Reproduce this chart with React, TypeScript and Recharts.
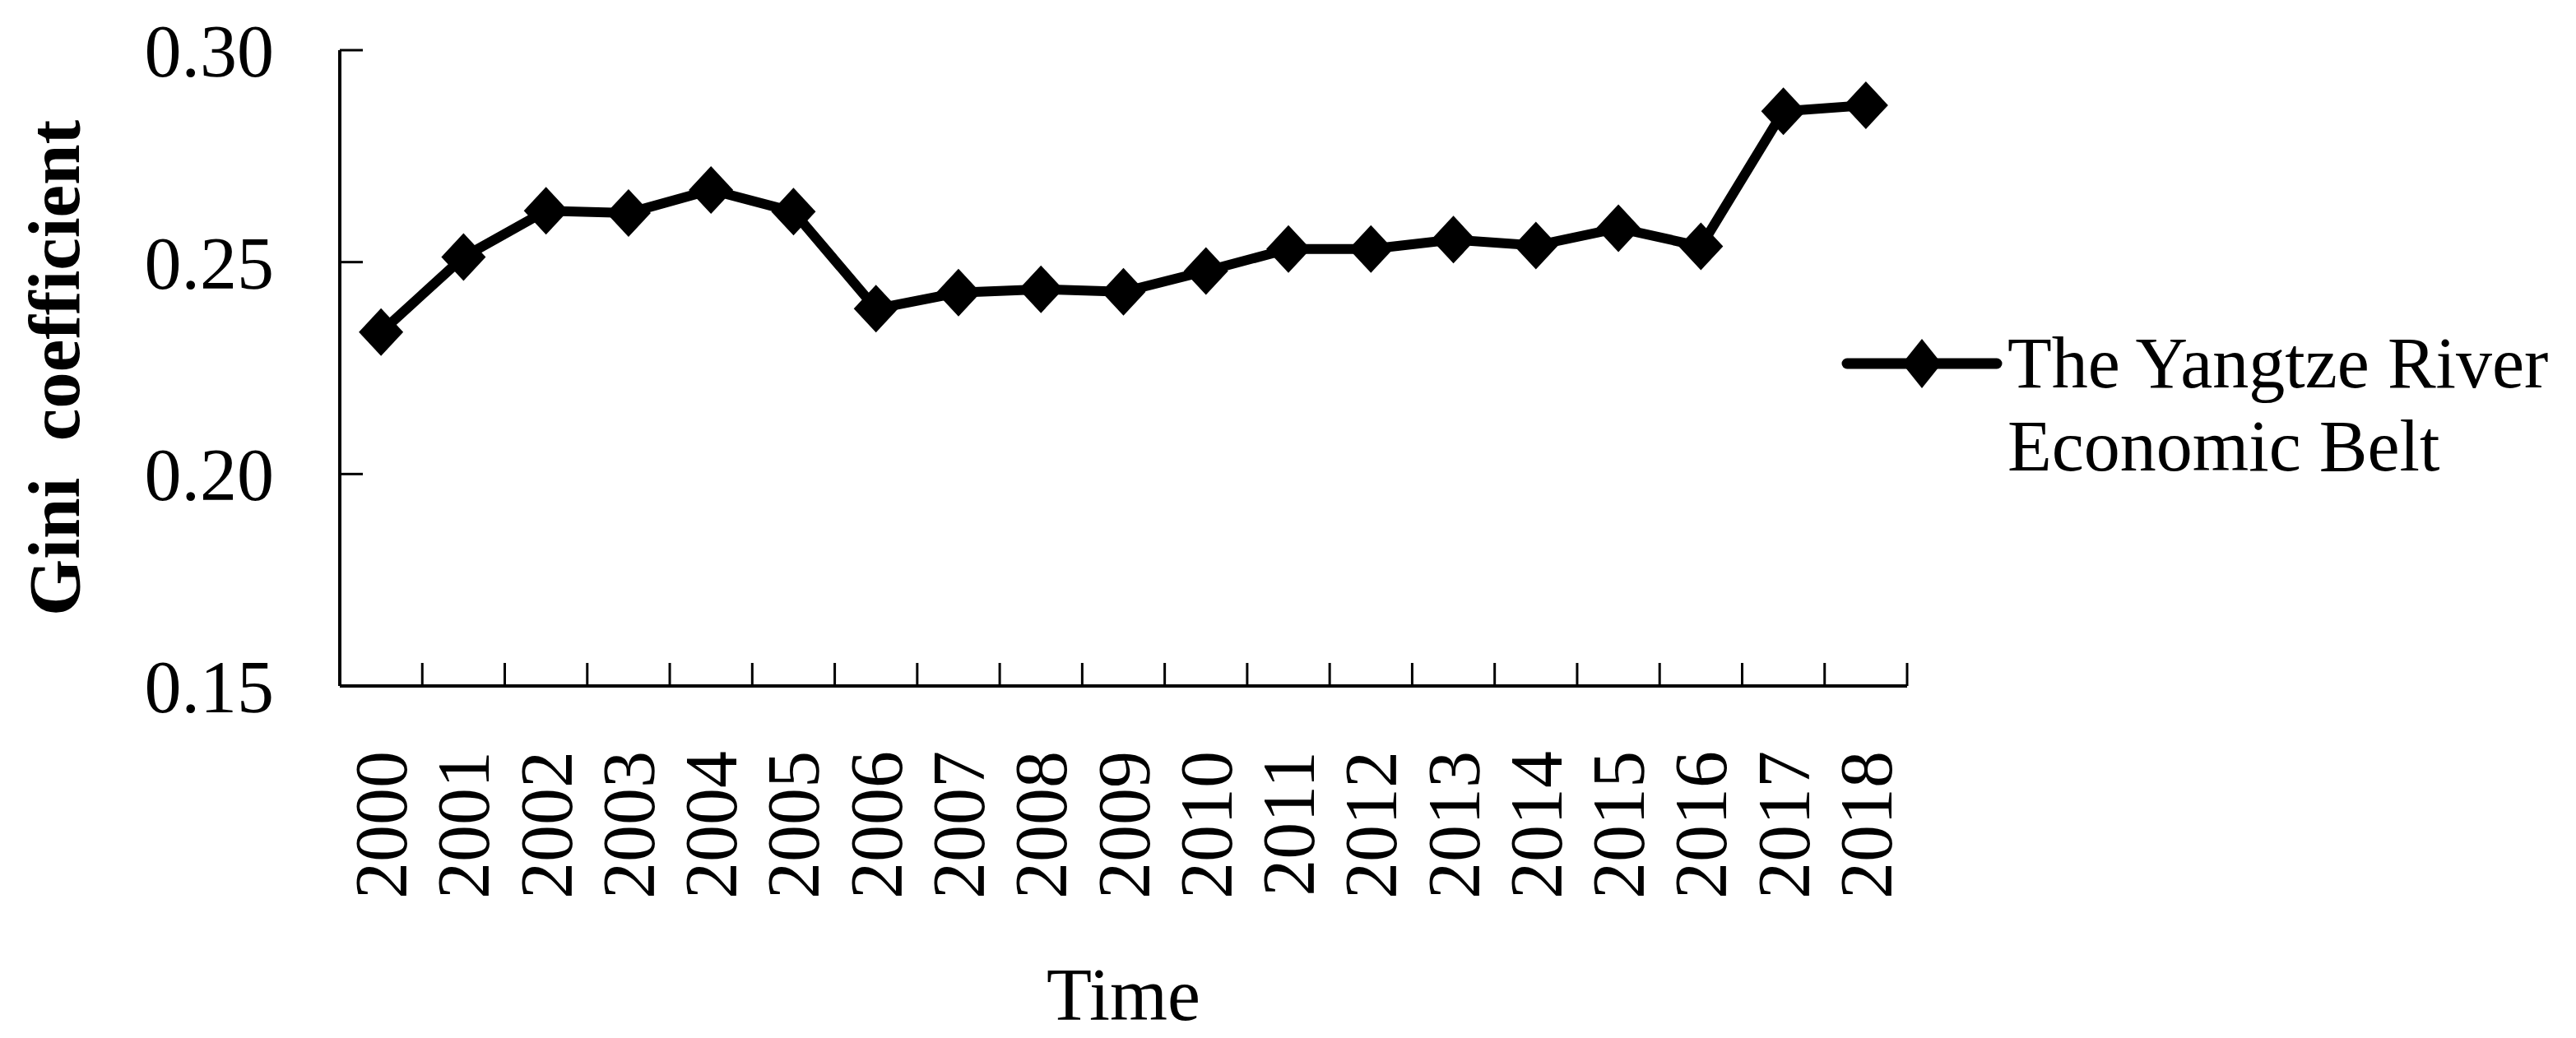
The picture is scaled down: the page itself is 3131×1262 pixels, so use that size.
import React from 'react'
import { LineChart, Line, XAxis, YAxis } from 'recharts'

const years = ['2000', '2001', '2002', '2003', '2004', '2005', '2006', '2007', '2008', '2009', '2010', '2011', '2012', '2013', '2014', '2015', '2016', '2017', '2018']
const gini = [0.2335, 0.2512, 0.2621, 0.2616, 0.267, 0.2619, 0.239, 0.2428, 0.2436, 0.243, 0.2479, 0.2531, 0.2531, 0.2553, 0.2539, 0.258, 0.2537, 0.2856, 0.287]
const yTicks = [0.15, 0.2, 0.25, 0.3]
const seriesName = ['The Yangtze River', 'Economic Belt']

const FONT = '"Liberation Serif", "Times New Roman", serif'
const FS = 90

// integers = year labels, halves = tick marks between years
const xTicks: number[] = []
years.forEach((_, i) => {
  xTicks.push(i - 0.5)
  xTicks.push(i)
})
xTicks.push(years.length - 0.5)

const chartData = years.map((year, i) => ({ idx: i, year, gini: gini[i] }))

const XTick = (props: any) => {
  const { x, y, payload } = props
  const v = payload.value
  if (Number.isInteger(v)) {
    return (
      <g transform={`translate(${x},${y + 79})`}>
        <text transform="rotate(-90)" textAnchor="end" dy={31} fontSize={FS} fontFamily={FONT} fill="#000">
          {years[v]}
        </text>
      </g>
    )
  }
  return <line x1={x} y1={y} x2={x} y2={y - 28} stroke="#000" strokeWidth={3} />
}

const Diamond = (props: any) => {
  const { cx, cy } = props
  if (cx == null || cy == null) return null
  return <polygon points={`${cx},${cy - 29} ${cx + 27},${cy} ${cx},${cy + 29} ${cx - 27},${cy}`} fill="#000" />
}

const YLabel = (props: any) => {
  const vb = props.viewBox
  const bx = vb.x + 24
  const cy = vb.y + vb.height / 2
  return (
    <text
      x={bx}
      y={cy}
      transform={`rotate(-90, ${bx}, ${cy})`}
      textAnchor="middle"
      fontSize={89}
      fontWeight="bold"
      fontFamily={FONT}
      fill="#000"
      style={{ whiteSpace: 'pre' }}
    >
      {'Gini  coefficient'}
    </text>
  )
}

const XLabel = (props: any) => {
  const vb = props.viewBox
  return (
    <text x={vb.x + vb.width / 2} y={vb.y + 406} textAnchor="middle" fontSize={FS} fontFamily={FONT} fill="#000">
      Time
    </text>
  )
}

export default function App() {
  return (
    <div style={{ position: 'relative', width: 3115, height: 1254, fontFamily: FONT, background: '#fff' }}>
      <LineChart width={3115} height={1254} data={chartData} margin={{ top: 53, right: 805, left: 64, bottom: 0 }}>
        <XAxis
          type="number"
          dataKey="idx"
          domain={[-0.5, years.length - 0.5]}
          ticks={xTicks}
          interval={0}
          height={428}
          tickSize={0}
          tickMargin={0}
          tickLine={false}
          tick={<XTick />}
          axisLine={{ stroke: '#000', strokeWidth: 4 }}
          label={<XLabel />}
        />
        <YAxis
          type="number"
          domain={[0.15, 0.3]}
          ticks={yTicks}
          interval={0}
          width={341}
          tickSize={-28}
          tickMargin={108}
          tickFormatter={(v: number) => v.toFixed(2)}
          tick={{ fontSize: FS, fontFamily: FONT, fill: '#000' }}
          tickLine={{ stroke: '#000', strokeWidth: 3 }}
          axisLine={{ stroke: '#000', strokeWidth: 4 }}
          label={<YLabel />}
        />
        <Line
          type="linear"
          dataKey="gini"
          stroke="#000"
          strokeWidth={12}
          dot={<Diamond />}
          activeDot={false}
          isAnimationActive={false}
        />
      </LineChart>
      <div style={{ position: 'absolute', left: 2230, top: 396 }}>
        <svg width={200} height={76}>
          <line x1={7} y1={38} x2={189} y2={38} stroke="#000" strokeWidth={13} strokeLinecap="round" />
          <polygon points="98,8 122,38 98,68 74,38" fill="#000" />
        </svg>
      </div>
      <div
        style={{
          position: 'absolute',
          left: 2432,
          top: 383,
          fontSize: 88,
          lineHeight: '101px',
          color: '#000',
          whiteSpace: 'nowrap',
        }}
      >
        <div>{seriesName[0]}</div>
        <div>{seriesName[1]}</div>
      </div>
    </div>
  )
}
